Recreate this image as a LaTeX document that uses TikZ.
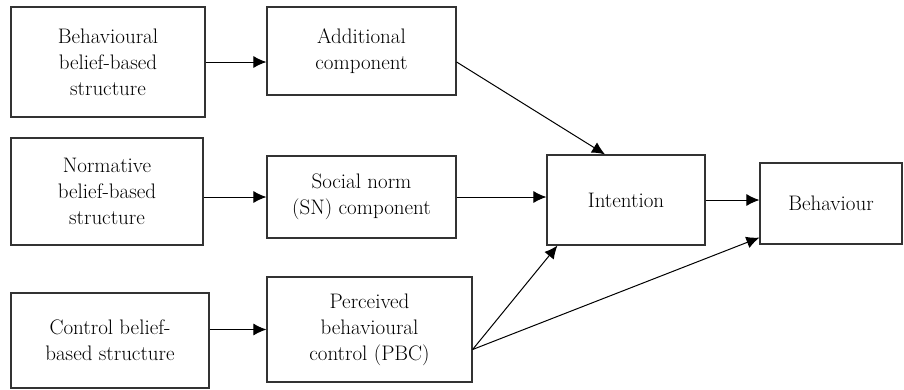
\documentclass[tikz,border=0pt]{standalone}
\usetikzlibrary{arrows.meta}
\tikzset{>={Latex[length=13pt,width=12pt]}}
\tikzset{box/.style={draw=black!80,line width=1.2pt,rectangle,align=center,
    font=\fontsize{21}{26}\selectfont,inner sep=0pt}}

\begin{document}
\begin{tikzpicture}[x=1pt,y=-1pt]
            \useasboundingbox (0,0) rectangle (904,389);
            \node[box,minimum width=194,minimum height=110] (bbs) at (108,62) {Behavioural\\belief-based\\structure};
            \node[box,minimum width=192,minimum height=107] (nbs) at (107,191.5) {Normative\\belief-based\\structure};
            \node[box,minimum width=198,minimum height=95] (cbs) at (110,340.5) {Control belief-\\based structure};
            \node[box,minimum width=189,minimum height=88] (add) at (361.5,51) {Additional\\component};
            \node[box,minimum width=189,minimum height=82] (sn) at (361.5,197) {Social norm\\(SN) component};
            \node[box,minimum width=205,minimum height=105] (pbc) at (369.5,329.5) {Perceived\\behavioural\\control (PBC)};
            \node[box,minimum width=158,minimum height=90] (int) at (626,200) {Intention};
            \node[box,minimum width=142,minimum height=81] (beh) at (831,203.5) {Behaviour};
            \draw[->,line width=1pt] (bbs.east) -- (bbs.east -| add.west);
            \draw[->,line width=1pt] (nbs.east |- sn.west) -- (sn.west);
            \draw[->,line width=1pt] (cbs.east |- pbc.west) -- (pbc.west);
            \draw[->,line width=1pt] (sn.east) -- (sn.east -| int.west);
            \draw[->,line width=1pt] (int.east) -- (int.east -| beh.west);
            \draw[->,line width=1pt] ([yshift=-11pt]add.east) -- ([xshift=-21pt]int.north);
            \draw[->,line width=1pt] ([yshift=-20pt]pbc.east) -- ([xshift=11pt]int.south west);
            \draw[->,line width=1pt] ([yshift=-20pt]pbc.east) -- ([yshift=7pt]beh.south west);
        \end{tikzpicture}
\end{document}
